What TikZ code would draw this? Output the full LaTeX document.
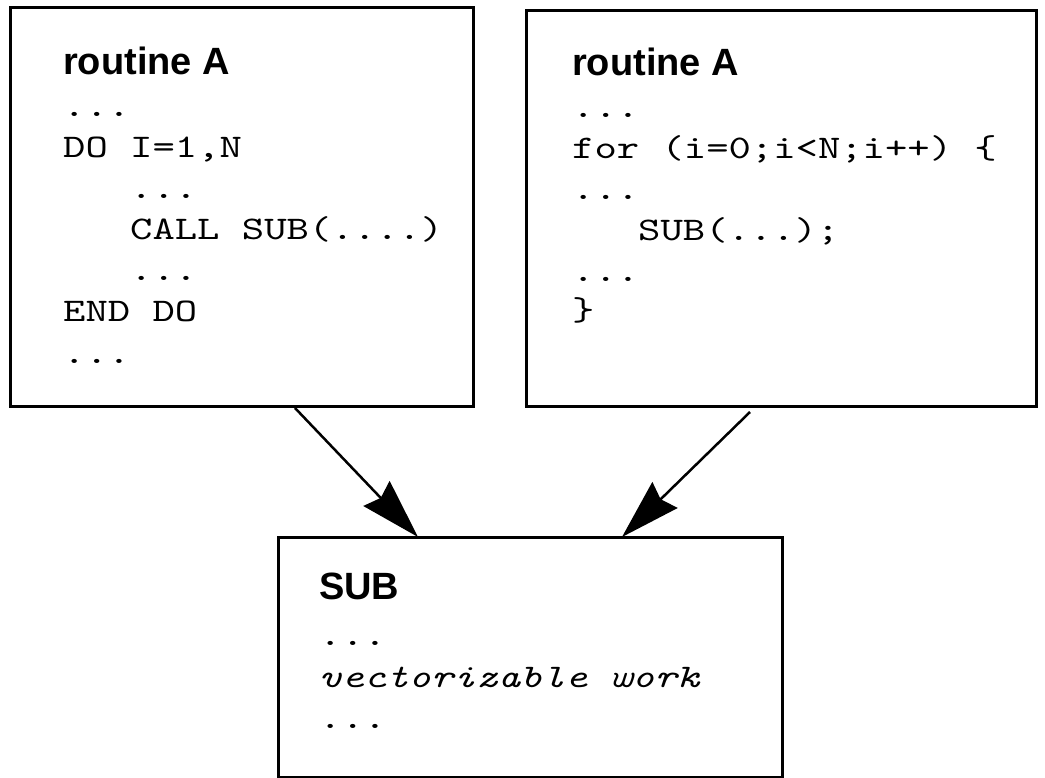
\documentclass[tikz,border=0pt]{standalone}
\usepackage{fontspec}
\usetikzlibrary{arrows.meta}
% headings: bold grotesque; listings: typewriter
\newfontfamily\headfont{Liberation Sans}
\newfontfamily\codefont{lmmono10-regular}[Extension=.otf, ItalicFont=lmmono10-italic, FakeStretch=1.29]

\begin{document}
\begin{tikzpicture}[x=1pt, y=-1pt,
  box/.style={draw, line width=3pt, inner sep=0pt, outer sep=0pt, anchor=north west},
  head/.style={anchor=base west, inner sep=0pt, font=\headfont\bfseries\fontsize{38}{38}\selectfont},
  code/.style={anchor=base west, inner sep=0pt, font=\codefont\fontsize{33}{41}\selectfont},
  link/.style={line width=2.5pt, -{Stealth[length=60pt, width=36pt, inset=6pt]}}]

\useasboundingbox (0,0) rectangle (1045,778);

% the three routine boxes
\node[box, minimum width=463pt, minimum height=398pt] (fort) at (10,8) {};
\node[box, minimum width=510pt, minimum height=395pt] (cprog) at (526,11) {};
\node[box, minimum width=504pt, minimum height=240pt] (sub) at (278,537) {};

% Fortran caller
\node[head] (fortT) at (63,75) {routine A};
\node[code] (f1) at (63,117) {...};
\node[code] (f2) at (63,158) {DO I=1,N};
\node[code] (f3) at (130,199) {...};
\node[code] (f4) at (130,240) {CALL SUB(....)};
\node[code] (f5) at (130,281) {...};
\node[code] (f6) at (63,322) {END DO};
\node[code] (f7) at (63,363) {...};

% C caller
\node[head] (cT) at (572,76) {routine A};
\node[code] (c1) at (572,118) {...};
\node[code] (c2) at (572,159) {for (i=0;i<N;i++) \{};
\node[code] (c3) at (572,200) {...};
\node[code] (c4) at (638,241) {SUB(...);};
\node[code] (c5) at (572,282) {...};
\node[code] (c6) at (572,320) {\}};

% the called subroutine
\node[head] (subT) at (319,599) {SUB};
\node[code] (s1) at (319,645) {...};
\node[code] (s2) at (319,687) {\itshape vectorizable work};
\node[code] (s3) at (319,728) {...};

% calls
\draw[link] ([xshift=285pt, yshift=-2pt]fort.south west) -- ([xshift=140pt]sub.north west);
\draw[link] ([xshift=224pt, yshift=-6pt]cprog.south west) -- ([xshift=344pt]sub.north west);
\end{tikzpicture}
\end{document}
